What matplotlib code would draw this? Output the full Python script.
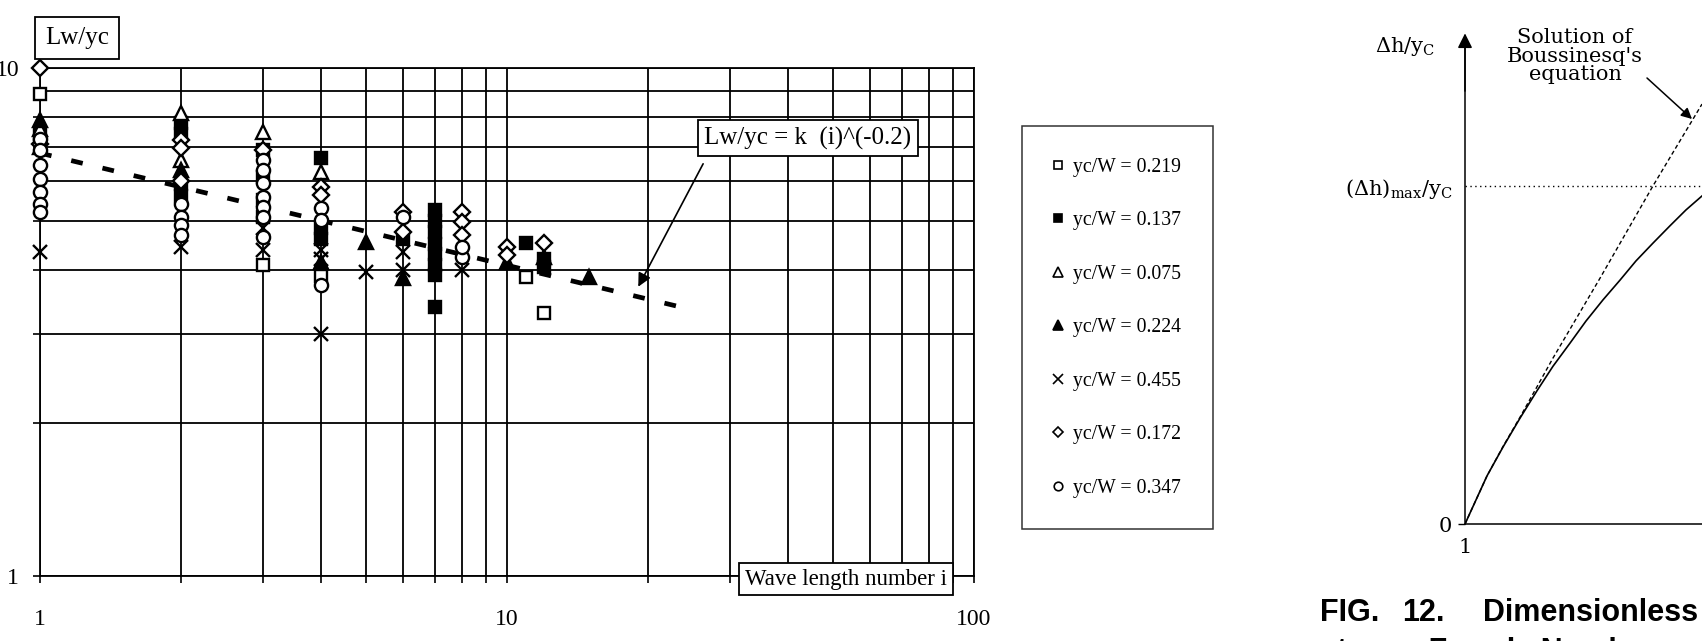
"""Lw/yc against wave length number (log-log), plus the clipped neighbouring figure."""

import matplotlib
matplotlib.use("Agg")
import matplotlib.pyplot as plt
from matplotlib.lines import Line2D
from matplotlib.ticker import LogLocator, FuncFormatter, NullFormatter

plt.rcParams["font.family"] = "Liberation Serif"
plt.rcParams["mathtext.fontset"] = "custom"
plt.rcParams["mathtext.rm"] = "DejaVu Serif"
plt.rcParams["mathtext.it"] = "DejaVu Serif:italic"

W, H = 1702, 641

# ---- data: wave number i, Lw/yc -------------------------------------------
sq_open_x = [1, 3, 4, 11, 12]
sq_open_y = [8.9, 4.1, 3.9, 3.87, 3.3]

sq_fill_x = [1, 2, 2, 2, 2, 3, 3, 3, 3, 4, 4, 4, 6, 7, 7, 7, 7, 7, 7, 7, 7, 11, 12, 12]
sq_fill_y = [7.4, 7.8, 7.4, 5.9, 5.6, 6.9, 6.1, 5.5, 5.1, 6.65, 4.85, 4.6, 4.6,
             5.25, 5.0, 4.75, 4.5, 4.3, 4.1, 3.92, 3.39, 4.53, 4.2, 4.05]

tri_open_x = [1, 2, 2, 3, 4]
tri_open_y = [7.6, 8.15, 6.6, 7.48, 6.24]

tri_fill_x = [1, 1, 2, 4, 5, 6, 10, 12, 15]
tri_fill_y = [7.9, 7.0, 6.3, 4.15, 4.54, 3.86, 4.15, 4.25, 3.87]

cross_x = [1, 2, 3, 3, 4, 4, 4, 5, 6, 6, 8]
cross_y = [4.35, 4.45, 4.84, 4.38, 4.38, 4.2, 3.0, 3.97, 4.35, 4.0, 4.0]

dia_x = [1, 1, 2, 2, 2, 3, 4, 4, 6, 6, 8, 8, 8, 10, 10, 12]
dia_y = [10.0, 7.1, 7.2, 6.95, 6.0, 6.9, 5.83, 5.63, 5.2, 4.76, 5.21, 4.98, 4.7,
         4.45, 4.29, 4.53]

circ_x = [1, 1, 1, 1, 1, 1, 1, 2, 2, 2, 2, 3, 3, 3, 3, 3, 3, 3, 4, 4, 4, 6, 8, 8]
circ_y = [7.25, 6.9, 6.45, 6.05, 5.7, 5.4, 5.2, 5.4, 5.1, 4.9, 4.7,
          6.6, 6.3, 5.94, 5.57, 5.33, 5.09, 4.65, 5.3, 5.02, 3.74, 5.1, 4.24, 4.45]

trend_x = [1, 24]
trend_y = [6.8, 3.37]

x_ticks = [1, 10, 100]
y_ticks = [1, 10]

# ---- the neighbouring figure (cut off at the right edge) -------------------
curve_x = [1.00, 1.11, 1.22, 1.38, 1.55, 1.72, 1.88, 2.05, 2.21, 2.38, 2.55,
           2.71, 2.88, 3.05, 3.21, 3.37]
curve_y = [0.0, 0.050, 0.100, 0.160, 0.220, 0.277, 0.328, 0.376, 0.422, 0.466,
           0.507, 0.547, 0.584, 0.620, 0.653, 0.682]
bous_x = [1.00, 1.11, 1.22, 1.38, 1.55, 1.88, 2.35, 2.88, 3.37]
bous_y = [0.0, 0.050, 0.100, 0.161, 0.222, 0.345, 0.511, 0.703, 0.873]
dh_max = 0.703

series = [
    ("yc/W = 0.219", sq_open_x, sq_open_y, "s", "white", 9.0),
    ("yc/W = 0.137", sq_fill_x, sq_fill_y, "s", "black", 9.0),
    ("yc/W = 0.075", tri_open_x, tri_open_y, "^", "white", 10.0),
    ("yc/W = 0.224", tri_fill_x, tri_fill_y, "^", "black", 10.0),
    ("yc/W = 0.455", cross_x, cross_y, "x", "black", 10.0),
    ("yc/W = 0.172", dia_x, dia_y, "D", "white", 8.0),
    ("yc/W = 0.347", circ_x, circ_y, "o", "white", 9.5),
]


def px(x, y):
    """top-left pixel position -> figure fraction"""
    return x / W, 1 - y / H


fig = plt.figure(figsize=(W / 100, H / 100), dpi=100)
ax = fig.add_axes([40 / W, 65 / H, 934 / W, 508 / H])
ax.set_xscale("log")
ax.set_yscale("log")
ax.set_xlim(1, 100)
ax.set_ylim(1, 10)

sub = [2, 3, 4, 5, 6, 7, 8, 9]
ax.xaxis.set_minor_locator(LogLocator(base=10, subs=sub))
ax.yaxis.set_minor_locator(LogLocator(base=10, subs=sub))
ax.set_xticks(x_ticks)
ax.set_yticks(y_ticks)
ax.xaxis.set_major_formatter(FuncFormatter(lambda v, _: f"{v:g}"))
ax.yaxis.set_major_formatter(FuncFormatter(lambda v, _: f"{v:g}"))
ax.xaxis.set_minor_formatter(NullFormatter())
ax.yaxis.set_minor_formatter(NullFormatter())
ax.grid(which="both", color="black", lw=1.3)
ax.set_axisbelow(True)
ax.tick_params(which="both", direction="out", length=5, width=1.2, labelsize=17)
ax.tick_params(axis="x", pad=19)
ax.tick_params(axis="y", pad=10)
for s in ax.spines.values():
    s.set_linewidth(1.3)

ax.plot(trend_x, trend_y, color="black", lw=3.4, linestyle=(0, (2.5, 4.3)),
        dash_capstyle="butt", zorder=2)

for label, xs, ys, mk, fc, ms in series:
    ax.plot(xs, ys, linestyle="none", marker=mk, ms=ms, mfc=fc, mec="black",
            mew=1.7, clip_on=False, zorder=3, label=label)

handles = [Line2D([], [], linestyle="none", marker=mk, ms=ms * 0.65, mfc=fc,
                  mec="black", mew=1.2) for _, _, _, mk, fc, ms in series]
leg = fig.legend(handles, [s[0] for s in series], loc="upper left",
                 bbox_to_anchor=px(1022, 126), fontsize=14.2, frameon=True,
                 fancybox=False, edgecolor="black", borderpad=1.6,
                 labelspacing=1.75, handlelength=0.45, handletextpad=0.55,
                 borderaxespad=0)
leg.get_frame().set_linewidth(1.1)

box = dict(boxstyle="square,pad=0.25", fc="white", ec="black", lw=1.3)
fig.text(*px(77, 38), "Lw/yc", fontsize=18, ha="center", va="center",
         bbox=dict(box, boxstyle="square,pad=0.4"), zorder=5)
fig.text(*px(846, 579), "Wave length number i", fontsize=16.5, ha="center",
         va="center", bbox=box, zorder=5)
ax.annotate("Lw/yc = k  (i)^(-0.2)", xy=(19.1, 3.71), xycoords="data",
            xytext=(808, H - 138), textcoords="figure pixels", fontsize=18,
            ha="center", va="center", bbox=box, zorder=6,
            arrowprops=dict(arrowstyle="-|>", color="black", lw=1.2,
                            relpos=(0.03, 0.0), shrinkA=6, shrinkB=0,
                            mutation_scale=20))

# ---- right hand figure, cut by the page edge --------------------------------
ax2 = fig.add_axes([1465 / W, 117 / H, 300 / W, 481 / H])
ax2.set_xlim(1, 4)
ax2.set_ylim(0, 1)
for side in ("top", "right"):
    ax2.spines[side].set_visible(False)
ax2.spines["left"].set_linewidth(1.1)
ax2.spines["bottom"].set_linewidth(1.1)
ax2.set_facecolor("none")
ax2.set_yticks([0, dh_max])
ax2.set_yticklabels(["0", r"($\Delta$h)$_{\rm max}$/y$_{\rm C}$"])
ax2.set_xticks([1])
ax2.set_xticklabels(["1"])
ax2.tick_params(axis="y", length=5, width=1, labelsize=15, pad=4)
ax2.tick_params(axis="x", length=0, labelsize=15, pad=10)
for t in ax2.get_yticklabels() + ax2.get_xticklabels():
    t.set_family("DejaVu Serif")
ax2.get_yticklines()[2].set_visible(False)
ax2.axhline(dh_max, color="black", lw=1, ls=(0, (1, 2.5)))
ax2.plot(curve_x, curve_y, color="black", lw=1.2)
ax2.plot(bous_x, bous_y, color="black", lw=1, ls=(0, (3, 2)))
ax2.annotate("", xy=(0, 1.02), xycoords="axes fraction", xytext=(0, 0.9),
             arrowprops=dict(arrowstyle="-|>", color="black", lw=1.1,
                             mutation_scale=22, shrinkA=0, shrinkB=0))
ax2.annotate("", xy=(3.27, 0.842), xycoords="data", xytext=(1647, H - 78),
             textcoords="figure pixels",
             arrowprops=dict(arrowstyle="-|>", color="black", lw=1.1,
                             mutation_scale=16, shrinkA=0, shrinkB=0))

fig.text(*px(1405, 46), r"$\Delta$h/y$_{\rm C}$", fontsize=15,
         family="DejaVu Serif", ha="center", va="center")
fig.text(*px(1575, 56), "Solution of\nBoussinesq's\nequation", fontsize=15,
         family="DejaVu Serif", ha="center", va="center", linespacing=0.95)

cap = dict(fontsize=22, family="Liberation Sans", weight="bold", va="center")
fig.text(*px(1320, 613), "FIG.", **cap)
fig.text(*px(1402, 613), "12.", **cap)
fig.text(*px(1483, 613), "Dimensionless", **cap)
fig.text(*px(1320, 637), "stream Froude Number", fontsize=22,
         family="Liberation Sans", weight="bold", va="top")

fig.savefig("out.png", dpi=100)
